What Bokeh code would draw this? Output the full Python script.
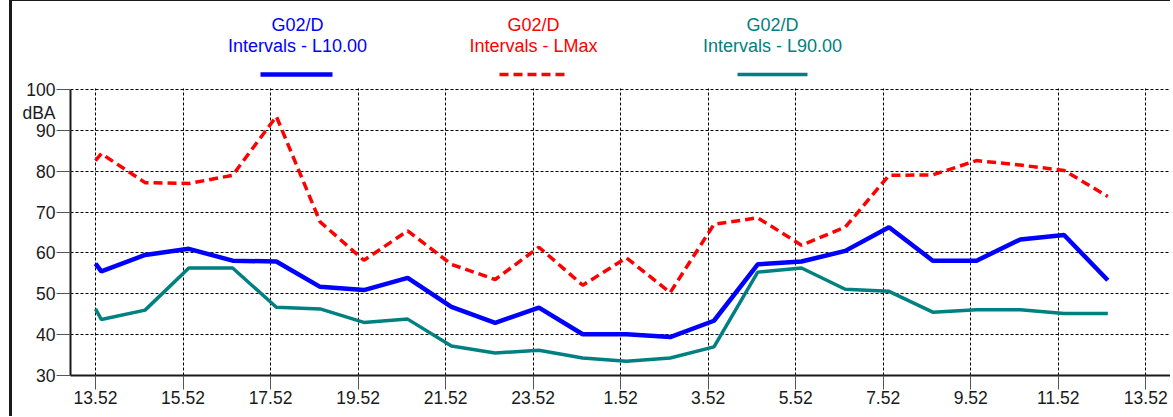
from bokeh.plotting import figure
from bokeh.models import Range1d, FixedTicker, Label, LinearAxis
from bokeh.embed import file_html
from bokeh.resources import INLINE

# ---- data ----
times = ["13:52", "14:00", "15:00", "16:00", "17:00", "18:00", "19:00", "20:00",
         "21:00", "22:00", "23:00", "00:00", "01:00", "02:00", "03:00", "04:00",
         "05:00", "06:00", "07:00", "08:00", "09:00", "10:00", "11:00", "12:00", "13:00"]
l10 = [57.4, 55.5, 59.5, 61.0, 58.1, 57.9, 51.7, 50.9, 53.9, 46.8, 42.9, 46.6, 40.1,
       40.1, 39.4, 43.4, 57.2, 57.9, 60.5, 66.3, 58.1, 58.1, 63.3, 64.4, 53.3]
lmax = [82.6, 84.3, 77.2, 77.0, 79.0, 93.4, 67.6, 58.2, 65.4, 57.2, 53.5, 61.4, 52.1,
        58.8, 50.3, 67.0, 68.6, 61.9, 66.3, 79.0, 79.1, 82.6, 81.5, 80.2, 73.8]
l90 = [46.3, 43.7, 46.0, 56.3, 56.3, 46.7, 46.3, 43.0, 43.8, 37.2, 35.5, 36.2, 34.3,
       33.5, 34.3, 37.0, 55.3, 56.3, 51.1, 50.6, 45.5, 46.1, 46.1, 45.2, 45.2]
tick_labels = ["13.52", "15.52", "17.52", "19.52", "21.52", "23.52", "1.52",
               "3.52", "5.52", "7.52", "9.52", "11.52", "13.52"]
y_ticks = [30, 40, 50, 60, 70, 80, 90, 100]
series_names = ["Intervals - L10.00", "Intervals - LMax", "Intervals - L90.00"]
group_name = "G02/D"
unit = "dBA"

# ---- convert times to elapsed hours since start ----
def to_min(t):
    h, m = t.split(":")
    return int(h) * 60 + int(m)

t0 = to_min(times[0])
hours = [((to_min(t) - t0) % 1440) / 60.0 for t in times]
tick_pos = [2 * i for i in range(len(tick_labels))]

FONT = "Liberation Sans"
BLUE, RED, TEAL = "#0000FF", "#FF0000", "#008080"
INK = "#1a1a1a"

# page geometry (figure host offset: 12px left, 1px top because of border)
OFF_X, OFF_Y = 12, 1
W, H = 1173 - OFF_X, 417 - OFF_Y
FRAME_L, FRAME_B = 70, 375          # page px
X0_PAGE, Y100_PAGE = 95, 89          # page px of x=0 and y=100
PX_PER_H = 43.76
PX_PER_U = 4.0857

x_start = (FRAME_L - X0_PAGE) / PX_PER_H
x_end = (1173 - X0_PAGE) / PX_PER_H
y_end = 100 + (Y100_PAGE - OFF_Y) / PX_PER_U

def xd(px):
    return (px - X0_PAGE) / PX_PER_H

def yd(py):
    return 100 + (Y100_PAGE - py) / PX_PER_U

p = figure(width=W, height=H, output_backend="svg", toolbar_location=None,
           x_range=Range1d(x_start, x_end), y_range=Range1d(30, y_end),
           min_border_left=FRAME_L - OFF_X, min_border_right=0, min_border_top=0,
           min_border_bottom=H - (FRAME_B - OFF_Y))
p.styles = {"margin-left": "9px", "border-left": "3px solid " + INK,
            "border-top": "1px solid " + INK}
p.outline_line_color = None
p.background_fill_color = "white"
p.border_fill_color = "white"

xa = p.xaxis[0]
xa.ticker = FixedTicker(ticks=tick_pos)
xa.major_label_overrides = {tp: lab for tp, lab in zip(tick_pos, tick_labels)}
xa.major_label_standoff = 1

ya = p.yaxis[0]
ya.ticker = FixedTicker(ticks=y_ticks)
ya.bounds = (30, 100)
ya.major_label_standoff = 1

for ax in (xa, ya):
    ax.axis_line_color = INK
    ax.axis_line_width = 2
    ax.major_tick_line_color = "#555555"
    ax.major_tick_line_width = 1
    ax.major_tick_in = 0
    ax.major_tick_out = 14
    ax.minor_tick_line_color = None
    ax.major_label_text_font = FONT
    ax.major_label_text_font_size = "17.5px"
    ax.major_label_text_color = INK

# unit label: an outer, line-less axis whose label is pulled back under the tick labels
unit_pos = round(yd(112), 2)
w_100 = 32  # pull-back so the unit's right edge lines up with the tick labels
ulab = LinearAxis(ticker=FixedTicker(ticks=[unit_pos]),
                  major_label_overrides={unit_pos: unit},
                  axis_line_color=None, major_tick_line_color=None,
                  minor_tick_line_color=None, major_tick_in=0, major_tick_out=0,
                  major_label_standoff=-w_100, major_label_text_font=FONT,
                  major_label_text_font_size="17.5px", major_label_text_color=INK)
p.add_layout(ulab, "left")

# grids
for g in (p.xgrid[0], p.ygrid[0]):
    g.grid_line_color = "black"
    g.grid_line_width = 1
    g.grid_line_dash = "3 2"
p.xgrid.ticker = FixedTicker(ticks=tick_pos)
p.ygrid.ticker = FixedTicker(ticks=y_ticks)

# blank area above the 100 line (legend area)
p.quad(left=[x_start], right=[x_end], bottom=[100.25], top=[y_end + 1],
       fill_color="white", line_color=None)

# data lines
p.line(hours, l10, line_color=BLUE, line_width=4.5)
p.line(hours, lmax, line_color=RED, line_width=3.5, line_dash="9 5")
p.line(hours, l90, line_color=TEAL, line_width=3.5)

# legend (custom, above plot)
leg_cx = [xd(297), xd(533), xd(772)]
leg_x0 = [xd(260), xd(499), xd(737)]
leg_x1 = [xd(332), xd(566), xd(807)]
colors = [BLUE, RED, TEAL]
dashes = ["solid", "9 5", "solid"]
widths = [4.5, 3.5, 3.5]
for i in range(3):
    for txt, yy in ((group_name, yd(24)), (series_names[i], yd(45))):
        p.add_layout(Label(x=leg_cx[i], y=yy, text=txt, text_align="center",
                           text_baseline="middle", text_color=colors[i],
                           text_font=FONT, text_font_size="18px"))
    p.line([leg_x0[i], leg_x1[i]], [yd(74), yd(74)], line_color=colors[i],
           line_width=widths[i], line_dash=dashes[i])

open("out.html", "w").write(file_html(p, INLINE))
